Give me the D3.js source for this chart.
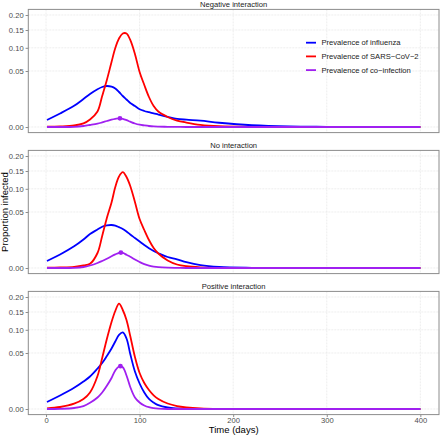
<!DOCTYPE html>
<html><head><meta charset="utf-8">
<script src="https://cdn.jsdelivr.net/npm/d3@7/dist/d3.min.js"></script>
<style>
body{margin:0;background:#fff;}
text{font-family:"Liberation Sans",Arial,sans-serif;}
</style></head>
<body><svg id="c" width="440" height="436"></svg>
<script>
const days = [1,15,30,40,47,55,60,65,70,74,78,82,86,90,95,100,105,110,115,120,130,140,150,165,185,220,260,300,400];
const panelTitles = ["Negative interaction","No interaction","Positive interaction"];
const seriesNames = ["Prevalence of influenza","Prevalence of SARS\u2212CoV\u22122","Prevalence of co\u2212infection"];
const xTicks = [0,100,200,300,400];
const yTicks = [0,0.05,0.10,0.15,0.20];

const fluNeg = [0.00078,0.00291,0.00717,0.0125,0.01737,0.02279,0.02552,0.02681,0.0259,0.02364,0.01954,0.01533,0.01206,0.00919,0.00703,0.00505,0.00408,0.00349,0.00299,0.00249,0.00166,0.00107,0.00085,0.00063,0.00029,0.00005,0.000004,0.0000006,0];
const covNeg = [0.0000014,0.0000057,0.0000359,0.00021,0.0009,0.00383,0.01533,0.03523,0.06738,0.09954,0.12492,0.13943,0.13943,0.1207,0.085,0.04825,0.02813,0.01435,0.00703,0.00383,0.0016,0.00067,0.00032,0.000077,0.00001,0.0000002,0,0,0];
const coNeg = [0,0,0.0000006,0.000016,0.000064,0.000174,0.000337,0.000574,0.00085,0.00105,0.00121,0.00107,0.00076,0.00045,0.000195,0.000084,0.000041,0.000016,0.0000057,0.0000026,0.0000006,0.0000002,0,0,0,0,0,0,0];

const fluNo = [0.00078,0.00291,0.00751,0.01295,0.01844,0.02364,0.02707,0.02894,0.02949,0.02867,0.02655,0.02426,0.02125,0.0179,0.01435,0.0112,0.00844,0.00625,0.00461,0.00349,0.00193,0.00121,0.00054,0.000125,0.000016,0.0000006,0,0,0];
const covNo = [0.0000014,0.0000057,0.000023,0.0001,0.00028,0.00359,0.01633,0.03987,0.06843,0.10464,0.13353,0.14637,0.13207,0.10724,0.06947,0.03829,0.02303,0.0125,0.00638,0.00335,0.0009,0.000195,0.00005,0.0000078,0.0000006,0,0,0,0];
const coNo = [0,0,0.0000006,0.000016,0.0001,0.0004,0.00078,0.00135,0.00222,0.00295,0.00359,0.00359,0.00278,0.00204,0.00115,0.00057,0.00023,0.000084,0.000031,0.00001,0.0000014,0.0000002,0,0,0,0,0,0,0];

const fluPos = [0.00078,0.00291,0.00717,0.01206,0.01685,0.02616,0.03375,0.0448,0.05838,0.07267,0.08734,0.09334,0.07927,0.04825,0.02243,0.01037,0.00434,0.0016,0.00067,0.00023,0.000036,0.0000057,0.0000006,0,0,0,0,0,0];
const covPos = [0.0000078,0.000064,0.00045,0.0016,0.00434,0.01737,0.04148,0.07815,0.12072,0.15317,0.17684,0.15631,0.12633,0.08499,0.04313,0.02067,0.01078,0.00576,0.00299,0.0016,0.00048,0.00014,0.000046,0.0000078,0.0000006,0,0,0,0];
const coPos = [0,0.0000006,0.000016,0.00014,0.00061,0.00211,0.00434,0.00858,0.01533,0.02364,0.02881,0.02787,0.0179,0.00772,0.00211,0.00067,0.000195,0.00005,0.000013,0.0000026,0,0,0,0,0,0,0,0,0];

const coPeakDays = [79, 80, 79.5];
const coPeakVals = [0.0012, 0.0038, 0.0293];

const colors = ["#0000FF","#FF0000","#A020F0"];
const panels = [[fluNeg,covNeg,coNeg],[fluNo,covNo,coNo],[fluPos,covPos,coPos]];

const svg = d3.select("#c");
const L = 28.3, R = 439, H = 123.2;
const tops = [9.4, 150.4, 291.4];
const x = d3.scaleLinear().domain([1 - 0.05*399, 400 + 0.05*399]).range([L, R]);
const sMax = Math.sqrt(0.2), sExp = 0.05*sMax;

panels.forEach((ser, pi) => {
  const top = tops[pi];
  const ys = d3.scaleLinear().domain([-sExp, sMax + sExp]).range([top + H, top]);
  const y = v => ys(Math.sqrt(Math.max(0, v)));
  const g = svg.append("g");
  g.selectAll(".gy").data(yTicks).join("line")
    .attr("x1", L).attr("x2", R).attr("y1", d => y(d)).attr("y2", d => y(d))
    .attr("stroke", "#e6e6e6").attr("stroke-width", 0.7).attr("stroke-dasharray","2,1");
  g.selectAll(".gx").data(xTicks).join("line")
    .attr("y1", top).attr("y2", top + H).attr("x1", d => x(d)).attr("x2", d => x(d))
    .attr("stroke", "#e6e6e6").attr("stroke-width", 0.7).attr("stroke-dasharray","2,1");
  const line = d3.line().x((d, i) => x(days[i])).y(d => y(d)).curve(d3.curveCatmullRom.alpha(0.5));
  ser.forEach((vals, si) => {
    g.append("path").attr("d", line(vals)).attr("fill", "none")
      .attr("stroke", colors[si]).attr("stroke-width", 1.8).attr("stroke-linejoin","round");
  });
  g.append("circle").attr("cx", x(coPeakDays[pi])).attr("cy", y(coPeakVals[pi])).attr("r", 2.4).attr("fill", colors[2]);
  g.append("rect").attr("x", L).attr("y", top).attr("width", R - L).attr("height", H)
    .attr("fill", "none").attr("stroke", "#8c8c8c").attr("stroke-width", 1);
  const ya = d3.axisLeft(ys).tickValues(yTicks.map(Math.sqrt)).tickSize(2.7).tickPadding(2)
    .tickFormat((d, i) => yTicks[i].toFixed(2));
  const yg = g.append("g").attr("transform", `translate(${L},0)`).call(ya);
  yg.select(".domain").remove();
  yg.selectAll(".tick line").attr("stroke", "#8c8c8c");
  yg.selectAll(".tick text").attr("fill", "#4d4d4d").style("font-size", "7.6px").style("font-family","Liberation Sans, Arial, sans-serif");
  svg.append("text").attr("x", (L + R) / 2).attr("y", top - 2.6).attr("text-anchor", "middle")
    .style("font-size", "7.6px").attr("fill", "#1a1a1a").text(panelTitles[pi]);
  if (pi === 2) {
    const xa = d3.axisBottom(x).tickValues(xTicks).tickSize(2.5).tickPadding(1).tickFormat(d3.format("d"));
    const xg = svg.append("g").attr("transform", `translate(0,${top + H})`).call(xa);
    xg.select(".domain").remove();
    xg.selectAll(".tick line").attr("stroke", "#8c8c8c");
    xg.selectAll(".tick text").attr("fill", "#4d4d4d").style("font-size", "7.6px").style("font-family","Liberation Sans, Arial, sans-serif");
  }
});

const lg = svg.append("g");
seriesNames.forEach((n, i) => {
  const yy = 42.7 + i * 13.7;
  lg.append("line").attr("x1", 306).attr("x2", 316).attr("y1", yy).attr("y2", yy)
    .attr("stroke", colors[i]).attr("stroke-width", 1.8);
  lg.append("text").attr("x", 321.5).attr("y", yy + 2.7).style("font-size", "7.6px")
    .attr("fill", "#1a1a1a").text(n);
});

svg.append("text").attr("x", (L + R) / 2).attr("y", 433.3).attr("text-anchor", "middle")
  .style("font-size", "9.5px").attr("fill", "#000").text("Time (days)");
svg.append("text").attr("transform", `translate(8,${(tops[0] + tops[2] + H) / 2}) rotate(-90)`)
  .attr("text-anchor", "middle").style("font-size", "9.5px").attr("fill", "#000").text("Proportion infected");
</script></body></html>
